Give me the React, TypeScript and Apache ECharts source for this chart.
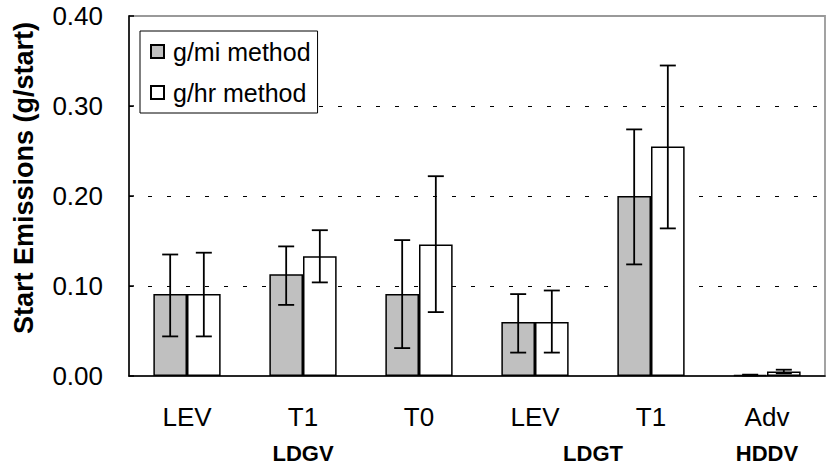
import React, { useEffect, useRef } from "react";
import * as echarts from "echarts";

const categories = ["LEV", "T1", "T0", "LEV", "T1", "Adv"];
const groupLabels: Record<string, string> = { "1": "LDGV", "3.5": "LDGT", "5": "HDDV" };
const yTicks = [0, 0.1, 0.2, 0.3, 0.4];

const gmiName = "g/mi method";
const gmi = [0.091, 0.113, 0.091, 0.06, 0.2, 0.001];
const gmiLow = [0.044, 0.079, 0.031, 0.026, 0.124, 0.0005];
const gmiHigh = [0.135, 0.144, 0.151, 0.091, 0.274, 0.0015];

const ghrName = "g/hr method";
const ghr = [0.091, 0.133, 0.146, 0.06, 0.255, 0.005];
const ghrLow = [0.044, 0.104, 0.071, 0.026, 0.164, 0.003];
const ghrHigh = [0.137, 0.162, 0.222, 0.095, 0.345, 0.007];

const FONT = "'Liberation Sans', Arial, sans-serif";
const CAT_GAP = 0.42;
const BAR_FRAC = (1 - CAT_GAP) / 2;

function errSeries(low: number[], high: number[], sign: number) {
  return {
    type: "custom",
    xAxisIndex: 0,
    yAxisIndex: 0,
    z: 5,
    silent: true,
    data: low.map((l, i) => [i, l, high[i]]),
    encode: { x: 0, y: [1, 2] },
    renderItem: (params: any, api: any) => {
      const i = api.value(0);
      const lo = api.value(1);
      const hi = api.value(2);
      const band = api.size([1, 0])[0];
      const pLo = api.coord([i, lo]);
      const pHi = api.coord([i, hi]);
      const x = pLo[0] + (sign * band * BAR_FRAC) / 2;
      const cap = 8;
      const style = { stroke: "#000", lineWidth: 1.8 };
      return {
        type: "group",
        children: [
          { type: "line", shape: { x1: x, y1: pLo[1], x2: x, y2: pHi[1] }, style },
          { type: "line", shape: { x1: x - cap, y1: pLo[1], x2: x + cap, y2: pLo[1] }, style },
          { type: "line", shape: { x1: x - cap, y1: pHi[1], x2: x + cap, y2: pHi[1] }, style },
        ],
      };
    },
  };
}

export default function App() {
  const ref = useRef<HTMLDivElement>(null);
  useEffect(() => {
    if (!ref.current) return;
    const chart = echarts.init(ref.current, undefined, { renderer: "svg" });
    chart.setOption({
      animation: false,
      textStyle: { fontFamily: FONT, color: "#000" },
      grid: {
        left: 129,
        right: -9,
        top: 16,
        bottom: 87,
        show: true,
        borderColor: "#999",
        borderWidth: 1.8,
        backgroundColor: "transparent",
      },
      legend: {
        data: [gmiName, ghrName],
        orient: "vertical",
        left: 140,
        top: 31,
        padding: [8, 7, 8, 10],
        itemGap: 16,
        itemWidth: 13,
        itemHeight: 13,
        icon: "rect",
        backgroundColor: "#fff",
        borderColor: "#000",
        borderWidth: 1,
        borderRadius: 0,
        textStyle: { fontSize: 25, fontFamily: FONT, color: "#000", padding: [0, 0, 0, 4] },
      },
      xAxis: [
        {
          type: "category",
          data: categories,
          axisLine: { lineStyle: { color: "#000", width: 1.5 } },
          axisTick: { show: false },
          axisLabel: { fontSize: 26, color: "#000", margin: 28, interval: 0 },
          splitLine: { show: false },
        },
        {
          type: "value",
          min: -0.5,
          max: 5.5,
          interval: 0.5,
          position: "bottom",
          axisLine: { show: false, onZero: false },
          axisTick: { show: false },
          splitLine: { show: false },
          axisLabel: {
            fontSize: 22,
            fontWeight: "bold",
            color: "#000",
            margin: 66,
            showMinLabel: true,
            showMaxLabel: true,
            formatter: (v: number) => groupLabels[String(v)] || "",
          },
        },
      ],
      yAxis: {
        type: "value",
        min: yTicks[0],
        max: yTicks[yTicks.length - 1],
        interval: 0.1,
        name: "Start Emissions (g/start)",
        nameLocation: "middle",
        nameGap: 92,
        nameTextStyle: { fontSize: 27, fontWeight: "bold", color: "#000", padding: [0, 0, 0, 36] },
        axisLine: { show: true, onZero: false, lineStyle: { color: "#000", width: 1.5 } },
        axisTick: { show: true, inside: true, length: 5, lineStyle: { color: "#000", width: 1.5 } },
        axisLabel: { fontSize: 26, color: "#000", margin: 26, formatter: (v: number) => v.toFixed(2) },
        splitLine: {
          show: true,
          lineStyle: {
            color: ["transparent", "#000", "#000", "#000", "transparent"],
            type: [4, 15],
            width: 1,
          },
        },
      },
      series: [
        {
          name: gmiName,
          type: "bar",
          data: gmi,
          barGap: "0%",
          barCategoryGap: CAT_GAP * 100 + "%",
          itemStyle: { color: "#c0c0c0", borderColor: "#000", borderWidth: 1.5 },
        },
        {
          name: ghrName,
          type: "bar",
          data: ghr,
          barGap: "0%",
          barCategoryGap: CAT_GAP * 100 + "%",
          itemStyle: { color: "#ffffff", borderColor: "#000", borderWidth: 1.5 },
        },
        errSeries(gmiLow, gmiHigh, -1),
        errSeries(ghrLow, ghrHigh, 1),
      ],
    });
    return () => chart.dispose();
  }, []);
  return <div ref={ref} style={{ width: 828, height: 464, position: "absolute", left: 0, top: 0 }} />;
}
